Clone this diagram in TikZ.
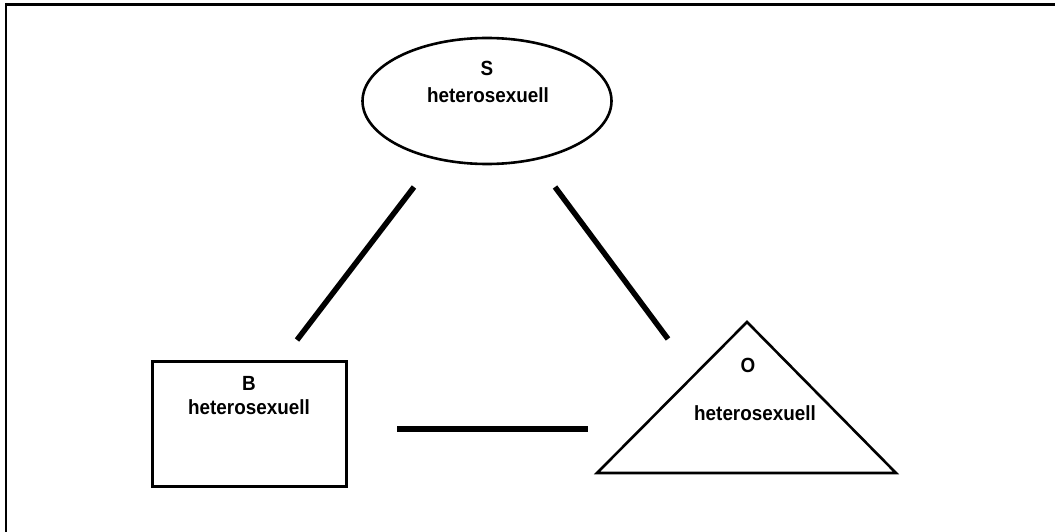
\documentclass[tikz,border=0pt]{standalone}
\usepackage{fontspec}
\setmainfont{Liberation Sans}
\newfontfamily\labelfont[FakeStretch=0.92]{Liberation Sans}
\usetikzlibrary{shapes.geometric}
\begin{document}
\begin{tikzpicture}[x=1pt,y=-1pt,
  shapeline/.style={draw=black,line width=2.6pt},
  label/.style={font=\labelfont\fontsize{20.5}{22}\selectfont\bfseries,inner sep=0pt,anchor=center},
  link/.style={line width=5.5pt,line cap=butt}]
\useasboundingbox (0,0) rectangle (1055,532);
% frame (top and left edges)
\draw[line width=3pt] (6,4.5) -- (1055,4.5);
\draw[line width=2.2pt] (6,3) -- (6,532);

% S : ellipse
\node[shapeline,ellipse,minimum width=249pt,minimum height=126pt,inner sep=0pt] (S) at (487,101) {};
\node[label] (Sname) at (487,68) {S};
\node[label] (Stext) at (488,95) {heterosexuell};

% B : rectangle
\node[shapeline,line width=3pt,rectangle,minimum width=194pt,minimum height=125pt,inner sep=0pt] (B) at (249,423.5) {};
\node[label] (Bname) at (249,383) {B};
\node[label] (Btext) at (249,407) {heterosexuell};

% O : triangle
\coordinate (Otop) at (747,322);
\coordinate (Oleft) at (597,473);
\coordinate (Oright) at (896,473);
\draw[shapeline,line join=miter] (Otop) -- (Oleft) -- (Oright) -- cycle;
\node[label] (Oname) at (748,365) {O};
\node[label] (Otext) at (755,413) {heterosexuell};

% relations
\coordinate (SBa) at (414,187);
\coordinate (SBb) at (297,340);
\coordinate (SOa) at (555,187);
\coordinate (SOb) at (668,339);
\coordinate (BOa) at (397,429);
\coordinate (BOb) at (588,429);
\draw[link] (SBa) -- (SBb);
\draw[link] (SOa) -- (SOb);
\draw[link,line width=6pt] (BOa) -- (BOb);
\end{tikzpicture}
\end{document}
